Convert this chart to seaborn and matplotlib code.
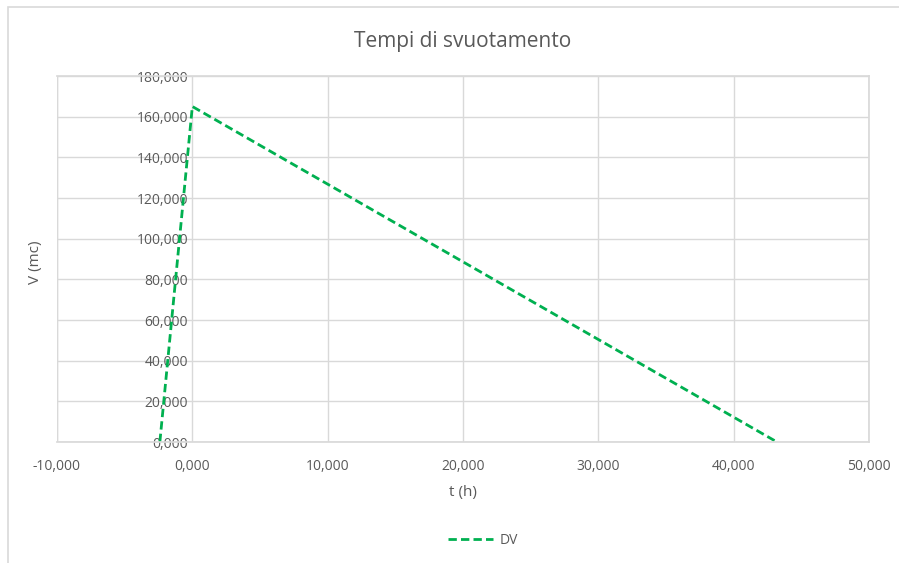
import matplotlib
matplotlib.use("Agg")
import matplotlib.pyplot as plt
import seaborn as sns
import pandas as pd
from matplotlib.patches import Rectangle

t_h = [-2.4, 0.0, 43.2]
V_mc = [0.0, 165.0, 0.0]
series = ["DV", "DV", "DV"]
x_ticks = [-10, 0, 10, 20, 30, 40, 50]
y_ticks = [0, 20, 40, 60, 80, 100, 120, 140, 160, 180]

sns.set_theme(style="white")
plt.rcParams['font.family'] = ['Open Sans', 'DejaVu Sans']

df = pd.DataFrame({"t": t_h, "V": V_mc, "s": series})

W, H = 899, 563
fig = plt.figure(figsize=(W / 100, H / 100), dpi=100)
ax = fig.add_axes([57 / W, 1 - 442 / H, (869 - 57) / W, (442 - 76) / H])

sns.lineplot(data=df, x="t", y="V", hue="s", palette=["#00B050"], sort=False,
             estimator=None, ax=ax, linewidth=2.0, linestyle=(0, (3, 1.5)), legend=False)

ax.set_xlim(-10, 50)
ax.set_ylim(0, 180)
ax.set_xticks(x_ticks)
ax.set_yticks(y_ticks)
ax.set_xticklabels([f"{v},000" for v in x_ticks])
ax.set_yticklabels([f"{v},000" for v in y_ticks])
ax.grid(True, color="#d9d9d9", linewidth=1)
ax.set_axisbelow(True)
for s in ["top", "right", "bottom"]:
    ax.spines[s].set_color("#d9d9d9")
ax.spines["left"].set_position(("data", 0))
ax.spines["left"].set_visible(False)
ax.axvline(-10, color="#d9d9d9", linewidth=1, zorder=0)
ax.tick_params(axis="both", length=0, labelsize=10, colors="#595959")
ax.tick_params(axis="y", pad=3)
ax.tick_params(axis="x", pad=12)
ax.set_xlabel("t (h)", fontsize=11, color="#595959", labelpad=8)
ax.set_ylabel("")
fig.text(35 / W, 1 - 262 / H, "V (mc)", rotation=90, fontsize=11, color="#595959",
         ha="center", va="center")
fig.text(463 / W, 1 - 42 / H, "Tempi di svuotamento", fontsize=15, color="#595959",
         ha="center", va="center")

handle = plt.Line2D([], [], color="#00B050", linewidth=2.0, linestyle=(0, (3, 1.5)))
fig.legend([handle], ["DV"], loc="center", bbox_to_anchor=(483 / W, 1 - 540 / H),
           frameon=False, fontsize=10, labelcolor="#595959", handlelength=3.2, handletextpad=0.5)

fig.patches.append(Rectangle((7.5 / W, -0.1), 1.2, 1 - 7.5 / H + 0.1, transform=fig.transFigure,
                             fill=False, edgecolor="#d9d9d9", linewidth=1.2))

fig.savefig("out.png", dpi=100)
